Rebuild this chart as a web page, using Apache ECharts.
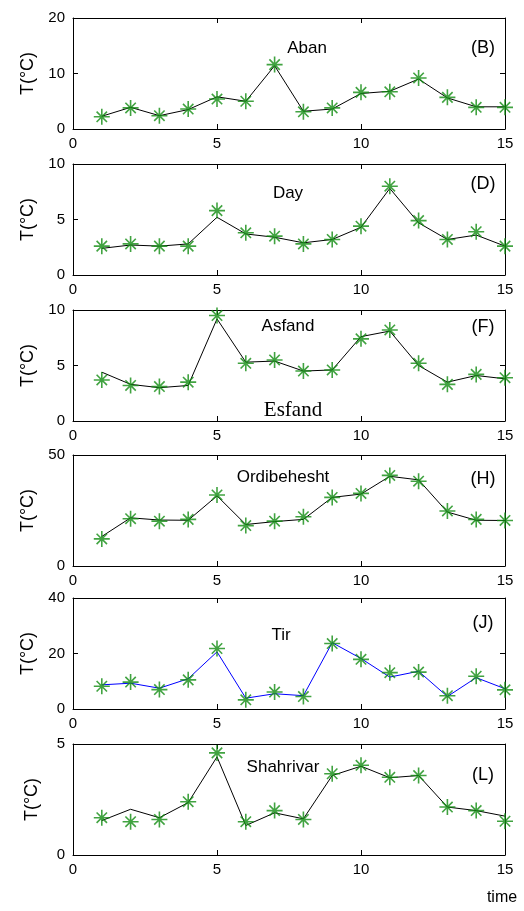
<!DOCTYPE html>
<html>
<head>
<meta charset="utf-8">
<script src="https://cdn.jsdelivr.net/npm/echarts@6/dist/echarts.min.js"></script>
<style>
  html, body { margin: 0; padding: 0; background: #fff; }
  #chart { width: 524px; height: 911px; }
</style>
</head>
<body>
<div id="chart"></div>
<script>
// time steps (x axis)
const days = [1, 2, 3, 4, 5, 6, 7, 8, 9, 10, 11, 12, 13, 14, 15];
const xTicks = [0, 5, 10, 15];

// line = model curve, star = observed points
const abanLine = [2.3, 3.9, 2.4, 3.5, 5.8, 5.0, 11.4, 3.2, 3.6, 6.4, 6.8, 9.0, 5.6, 4.0, 4.0];
const abanStar = [2.2, 3.8, 2.4, 3.6, 5.4, 5.0, 11.6, 3.1, 3.8, 6.6, 6.7, 9.2, 5.7, 3.9, 3.9];

const dayLine = [2.4, 2.7, 2.6, 2.8, 5.2, 3.7, 3.4, 2.9, 3.2, 4.3, 7.8, 4.7, 3.2, 3.6, 2.6];
const dayStar = [2.6, 2.8, 2.6, 2.6, 5.8, 3.8, 3.5, 2.8, 3.2, 4.4, 8.0, 4.9, 3.2, 3.9, 2.6];

const asfandLine = [4.4, 3.3, 3.0, 3.2, 9.2, 5.3, 5.4, 4.5, 4.6, 7.6, 8.1, 5.0, 3.5, 4.1, 3.8];
const asfandStar = [3.7, 3.2, 3.1, 3.5, 9.5, 5.2, 5.5, 4.5, 4.6, 7.4, 8.2, 5.2, 3.3, 4.2, 3.9];

const ordiLine = [13.3, 21.7, 20.7, 20.6, 31.6, 18.7, 20.0, 21.0, 30.9, 32.4, 40.4, 38.8, 24.3, 20.6, 20.5];
const ordiStar = [12.2, 21.3, 20.2, 21.0, 32.0, 18.2, 20.2, 22.2, 30.9, 32.7, 40.8, 38.2, 24.8, 21.0, 20.5];

const tirLine = [8.7, 9.3, 7.5, 10.9, 20.6, 3.9, 5.5, 4.8, 23.9, 18.2, 11.5, 13.6, 4.5, 11.3, 7.3];
const tirStar = [8.2, 9.7, 7.0, 10.5, 21.8, 3.3, 6.1, 4.5, 23.6, 17.9, 13.1, 13.3, 4.8, 11.8, 6.9];

const shahLine = [1.55, 2.06, 1.68, 2.36, 4.42, 1.33, 1.9, 1.63, 3.58, 4.0, 3.48, 3.58, 2.16, 2.0, 1.75];
const shahStar = [1.68, 1.5, 1.6, 2.4, 4.6, 1.5, 2.0, 1.6, 3.66, 4.04, 3.5, 3.58, 2.16, 2.0, 1.52];

const panels = [
  { name: 'Aban', tag: '(B)', line: abanLine, star: abanStar, yMax: 20, yStep: 10, color: '#000' },
  { name: 'Day', tag: '(D)', line: dayLine, star: dayStar, yMax: 10, yStep: 5, color: '#000' },
  { name: 'Asfand', tag: '(F)', line: asfandLine, star: asfandStar, yMax: 10, yStep: 5, color: '#000' },
  { name: 'Ordibehesht', tag: '(H)', line: ordiLine, star: ordiStar, yMax: 50, yStep: 50, color: '#000' },
  { name: 'Tir', tag: '(J)', line: tirLine, star: tirStar, yMax: 40, yStep: 20, color: '#0000ff' },
  { name: 'Shahrivar', tag: '(L)', line: shahLine, star: shahStar, yMax: 5, yStep: 5, color: '#000' }
];

// layout
const tops = [18, 164, 310, 455, 598, 744];
const plotH = 111;
const nameX = [307, 288, 288, 283, 281, 283];
const nameY = [48, 193, 326, 477, 635, 767];
const tagY = [48, 184, 327, 479, 623, 775];
const FONT = '"Liberation Sans", Arial, sans-serif';
const STAR = 'path://M0,-10L0,10M-10,0L10,0M-6.5,-6.5L6.5,6.5M-6.5,6.5L6.5,-6.5';

const chart = echarts.init(document.getElementById('chart'));

const grid = [], xAxis = [], yAxis = [], series = [], graphic = [];
const axisLine = { show: true, onZero: false, lineStyle: { color: '#000', width: 1 } };
const tick = { show: true, inside: true, length: 5, lineStyle: { color: '#000' } };
const label = { color: '#000', fontSize: 15, fontFamily: FONT };

panels.forEach((p, i) => {
  grid.push({ left: 73, right: 19, top: tops[i], height: plotH });
  xAxis.push({
    type: 'value', gridIndex: i, min: xTicks[0], max: xTicks[xTicks.length - 1], interval: 5,
    position: 'bottom', axisLine, axisTick: tick, splitLine: { show: false },
    axisLabel: { ...label, margin: 7, showMinLabel: true, showMaxLabel: true }
  });
  xAxis.push({
    type: 'value', gridIndex: i, min: 0, max: 15, interval: 5, position: 'top',
    axisLine, axisTick: tick, splitLine: { show: false }, axisLabel: { show: false }
  });
  yAxis.push({
    type: 'value', gridIndex: i, min: 0, max: p.yMax, interval: p.yStep, position: 'left',
    axisLine, axisTick: tick, splitLine: { show: false },
    axisLabel: { ...label, margin: 8 },
    name: 'T(°C)', nameLocation: 'middle', nameGap: 32, nameRotate: 90,
    nameTextStyle: { color: '#000', fontSize: 18, fontFamily: FONT }
  });
  yAxis.push({
    type: 'value', gridIndex: i, min: 0, max: p.yMax, interval: p.yStep, position: 'right',
    axisLine, axisTick: tick, splitLine: { show: false }, axisLabel: { show: false }
  });
  series.push({
    type: 'line', xAxisIndex: 2 * i, yAxisIndex: 2 * i,
    data: days.map((d, k) => [d, p.line[k]]),
    showSymbol: false, lineStyle: { color: p.color, width: 1 }, silent: true, z: 2
  });
  series.push({
    type: 'scatter', xAxisIndex: 2 * i, yAxisIndex: 2 * i,
    data: days.map((d, k) => [d, p.star[k]]),
    symbol: STAR, symbolSize: 16,
    itemStyle: { color: 'rgba(0,0,0,0)', borderColor: '#128c12', borderWidth: 1.6 }, z: 3
  });
  graphic.push({
    type: 'text', x: nameX[i], y: nameY[i],
    style: { text: p.name, fill: '#000', font: '17px ' + FONT, align: 'center', verticalAlign: 'middle' }
  });
  graphic.push({
    type: 'text', x: 483, y: tagY[i],
    style: { text: p.tag, fill: '#000', font: '18px ' + FONT, align: 'center', verticalAlign: 'middle' }
  });
});

graphic.push({
  type: 'text', x: 293, y: 410,
  style: { text: 'Esfand', fill: '#000', font: '21px "Liberation Serif", "Times New Roman", serif', align: 'center', verticalAlign: 'middle' }
});
graphic.push({
  type: 'text', x: 502, y: 898,
  style: { text: 'time', fill: '#000', font: '16px ' + FONT, align: 'center', verticalAlign: 'middle' }
});

chart.setOption({
  animation: false,
  backgroundColor: '#fff',
  grid, xAxis, yAxis, series, graphic
});
</script>
</body>
</html>
